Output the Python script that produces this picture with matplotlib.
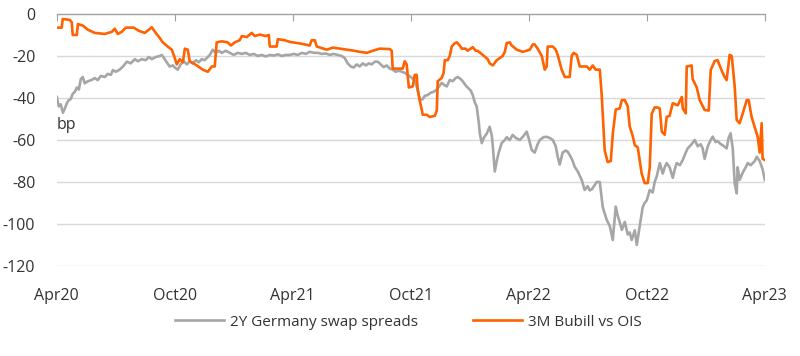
import matplotlib.pyplot as plt

# months since Apr 2020, values in bp
bubill_m = [0.0, 0.25, 0.3, 0.66, 0.76, 0.81, 1.02, 1.07, 1.32, 1.58, 1.93, 2.44, 2.80, 2.95, 3.10, 3.30,
            3.51, 3.91, 4.17, 4.47, 4.68, 4.83, 5.03, 5.24, 5.39, 5.64, 5.85, 6.0, 6.10, 6.25, 6.41, 6.51,
            6.66, 6.76, 7.12, 7.42, 7.68, 7.88, 8.03, 8.13, 8.39, 8.69, 8.85, 9.05, 9.30, 9.41, 9.66, 9.91,
            10.07, 10.32, 10.63, 10.78, 10.83, 11.18, 11.24, 11.59, 11.85, 12.35, 12.86, 12.96, 13.12, 13.22,
            13.73, 14.03, 14.54, 15.05, 15.40, 15.76, 16.07, 16.42, 16.93, 17.03, 17.08, 17.44, 17.59, 17.69,
            17.79, 17.90, 18.10, 18.20, 18.30, 18.35, 18.45, 18.61, 18.81, 18.96, 19.22, 19.32, 19.37, 19.57,
            19.67, 19.73, 19.88, 19.98, 20.08, 20.23, 20.34, 20.49, 20.59, 20.79, 20.89, 21.15, 21.30, 21.40,
            21.66, 21.91, 22.01, 22.17, 22.37, 22.52, 22.67, 22.78, 22.88, 23.03, 23.13, 23.39, 23.54, 23.69,
            23.89, 24.05, 24.20, 24.30, 24.45, 24.66, 24.81, 24.91, 24.96, 25.22, 25.37, 25.47, 25.67, 25.83,
            26.08, 26.18, 26.28, 26.44, 26.59, 26.95, 27.10, 27.25, 27.40, 27.61, 27.71, 27.86, 28.01, 28.17,
            28.27, 28.42, 28.62, 28.73, 28.88, 29.03, 29.13, 29.28, 29.39, 29.54, 29.74, 29.89, 30.05, 30.15,
            30.25, 30.40, 30.55, 30.66, 30.76, 30.91, 31.01, 31.16, 31.32, 31.57, 31.78, 31.83, 31.98, 32.03,
            32.28, 32.33, 32.54, 32.69, 32.94, 33.15, 33.25, 33.45, 33.60, 33.81, 33.96, 34.06, 34.21, 34.32,
            34.47, 34.57, 34.72, 34.88, 35.08, 35.18, 35.33, 35.49, 35.64, 35.74, 35.84, 35.89, 36.0]
bubill_v = [-6.5, -6.5, -2.4, -2.8, -4, -10, -10, -4.8, -5.5, -7.5, -9, -9.5, -8.5, -7, -9.5, -8.5,
            -6.5, -6.5, -8, -9, -7.5, -6.3, -9, -11.5, -13.5, -15.5, -17, -21, -24, -21.5, -23, -16.5,
            -17, -22.5, -24.5, -26.5, -27.5, -25, -25, -13.5, -13, -13.5, -15, -13.5, -12.5, -10.5, -11, -9,
            -10.5, -9.8, -10.5, -10, -15.5, -15.5, -12, -12.5, -13.3, -14, -15, -12.5, -12.5, -15.5,
            -17, -16, -16.7, -17.4, -18, -18.5, -17.5, -16.5, -16.7, -17.5, -26, -26, -26, -22.5,
            -24, -35, -34.5, -29, -29, -36, -41, -48, -48, -49, -48.5, -46, -32, -30.5,
            -28, -22, -22, -20, -15.5, -14, -13.5, -15, -16.5, -16.5, -17.5, -15.8, -17.5, -17.5,
            -19.5, -21.5, -23.5, -24.5, -22, -21, -20, -18, -13.8, -13.5, -15, -17, -17.5, -18,
            -17.5, -17, -14.5, -14.5, -16.5, -20, -26.5, -25, -15.5, -15.5, -17, -19.5, -26.5, -30,
            -30, -20, -18.5, -19.5, -25, -25, -26.5, -24.5, -26.5, -26.5, -39, -65, -70.5, -70,
            -57, -45.5, -45, -41, -41, -44, -53.5, -58, -62.5, -63.5, -76, -80.5, -80.5, -73,
            -47.5, -44.5, -44.5, -45, -56, -57.5, -49, -48.5, -42.5, -43.5, -39.5, -45, -47.3, -25,
            -24.5, -31, -35, -41, -45.7, -46, -26.7, -22.4, -22, -27, -30, -31.5, -19.5, -20,
            -34.6, -50.5, -52, -47.3, -41, -41, -49, -54, -58.5, -66, -52, -69, -69.5]

swap_m = [0.0, 0.10, 0.20, 0.31, 0.41, 0.51, 0.61, 0.71, 0.81, 0.92, 1.02, 1.12, 1.22, 1.32, 1.42, 1.58,
          1.78, 1.93, 2.08, 2.24, 2.44, 2.59, 2.75, 2.85, 3.00, 3.20, 3.41, 3.56, 3.76, 3.97, 4.12, 4.32,
          4.52, 4.68, 4.83, 5.03, 5.24, 5.34, 5.49, 5.59, 5.74, 5.90, 6.00, 6.15, 6.30, 6.46, 6.61, 6.76,
          6.91, 7.07, 7.22, 7.37, 7.52, 7.68, 7.78, 7.93, 8.08, 8.24, 8.39, 8.59, 8.80, 9.00, 9.20, 9.41,
          9.61, 9.81, 10.02, 10.22, 10.42, 10.63, 10.83, 11.03, 11.24, 11.44, 11.64, 11.85, 12.05, 12.25,
          12.46, 12.66, 12.86, 13.07, 13.27, 13.47, 13.68, 13.88, 14.08, 14.29, 14.49, 14.64, 14.79, 14.95,
          15.10, 15.25, 15.40, 15.56, 15.71, 15.86, 16.01, 16.17, 16.32, 16.47, 16.62, 16.78, 16.93, 17.08,
          17.23, 17.39, 17.54, 17.69, 17.84, 18.00, 18.20, 18.35, 18.45, 18.61, 18.71, 18.86, 19.01, 19.17,
          19.32, 19.47, 19.57, 19.73, 19.83, 19.98, 20.13, 20.28, 20.39, 20.54, 20.64, 20.79, 20.89, 21.05,
          21.15, 21.25, 21.35, 21.46, 21.51, 21.61, 21.71, 21.86, 22.01, 22.12, 22.17, 22.27, 22.37, 22.47,
          22.62, 22.78, 22.88, 23.03, 23.18, 23.34, 23.54, 23.74, 23.89, 23.99, 24.15, 24.30, 24.45, 24.56,
          24.76, 24.91, 25.06, 25.22, 25.37, 25.47, 25.57, 25.72, 25.88, 25.98, 26.13, 26.23, 26.33, 26.49,
          26.59, 26.69, 26.84, 26.99, 27.10, 27.20, 27.35, 27.45, 27.61, 27.76, 27.86, 27.96, 28.12, 28.27,
          28.42, 28.52, 28.62, 28.73, 28.88, 29.03, 29.13, 29.23, 29.39, 29.49, 29.64, 29.79, 29.89, 30.00,
          30.15, 30.30, 30.40, 30.50, 30.66, 30.81, 30.91, 31.01, 31.16, 31.32, 31.42, 31.52, 31.68, 31.83,
          31.98, 32.08, 32.28, 32.44, 32.59, 32.74, 32.84, 32.94, 33.10, 33.25, 33.35, 33.50, 33.60, 33.76,
          33.86, 34.06, 34.16, 34.26, 34.37, 34.47, 34.57, 34.62, 34.72, 34.88, 35.03, 35.13, 35.28, 35.39,
          35.49, 35.59, 35.74, 35.89, 36.00]
swap_v = [-39.5, -44, -43, -47, -45, -42.5, -41, -40.5, -38, -37, -35, -36, -31, -30, -33, -32,
          -31.4, -30.5, -31.5, -29.5, -30, -28.5, -29, -26.7, -27.5, -26.5, -24.5, -22.7, -23.5, -21.5, -22.5, -21.5,
          -22, -20.5, -21.5, -20.5, -20, -19.5, -21.5, -23, -25, -24.5, -25.5, -26.5, -24, -22.5, -24, -22.5,
          -23.5, -22, -23, -21.5, -22, -20.5, -19.5, -17, -18.5, -17.5, -18.5, -17.5, -18.5, -19.5, -18.5, -19,
          -18.5, -19.5, -19, -20, -19.5, -20.2, -19.5, -19.8, -19.2, -20, -19.5, -19.5, -19, -19.5,
          -18.5, -19, -18, -18.5, -18.5, -19, -18.8, -19.5, -19, -19.5, -20, -21, -23.5, -25,
          -25.5, -24, -25, -23.5, -24.5, -23.5, -24, -22.7, -22.7, -24, -25.3, -24.5, -26, -26.5,
          -27.5, -27, -27.5, -28, -29, -30, -31.7, -36, -41, -40.5, -39, -38.6, -37.5, -37,
          -36, -34, -32.8, -34, -34.5, -31.4, -32, -30.5, -30, -31, -32, -34, -35, -36.5,
          -38.6, -42, -44, -52, -57, -61.5, -59, -57, -53.7, -58, -63, -75, -70, -66,
          -61.5, -60, -58.7, -60, -57.6, -59, -60, -58, -56, -59, -64.8, -66, -62, -60,
          -58.6, -58.5, -59, -60, -63, -68, -71.7, -66, -65, -65.6, -68, -70, -72.7, -75,
          -77, -79, -83.8, -82, -84, -83.5, -81.5, -80, -80, -92, -95, -98, -101, -107.6,
          -91.7, -96, -99, -102.8, -99, -105, -104, -107.6, -103, -110, -101, -92, -90, -88.7,
          -83.8, -85, -80, -77.5, -71, -76, -73, -71, -73, -78, -74, -71, -72, -69.5,
          -66, -64, -62, -60, -63, -62, -64, -69, -63, -60, -58.4, -61, -60.5, -62,
          -62.5, -64, -59, -56.8, -64, -80.7, -85.4, -73, -79, -75.5, -73, -71, -72, -71,
          -70, -68, -70, -74, -79]

tick_pos = [0, 6, 12, 18, 24, 30, 36]
tick_labels = ["Apr20", "Oct20", "Apr21", "Oct21", "Apr22", "Oct22", "Apr23"]
y_ticks = [0, -20, -40, -60, -80, -100, -120]

plt.rcParams['font.family'] = ['Open Sans', 'DejaVu Sans']
plt.rcParams['axes.unicode_minus'] = False

fig = plt.figure(figsize=(8, 3.56), dpi=100)
ax = fig.add_axes([0.071, 0.2528, 0.885, 0.7079])

for yv in y_ticks[1:]:
    ax.axhline(yv, color="#d9d9d9", lw=1, zorder=0)

ax.plot(swap_m, swap_v, color="#a6a6a6", lw=1.9, label="2Y Germany swap spreads", zorder=2)
ax.plot(bubill_m, bubill_v, color="#ff6200", lw=1.9, label="3M Bubill vs OIS", zorder=3)

ax.set_xlim(0, 36)
ax.set_ylim(-120, 0)

for s in ["left", "right", "bottom"]:
    ax.spines[s].set_visible(False)
ax.spines["top"].set_color("#a0a0a0")
ax.spines["top"].set_linewidth(1)

ax.set_xticks(tick_pos)
ax.set_xticklabels(tick_labels)
ax.tick_params(axis="x", top=True, bottom=False, labeltop=False, labelbottom=True,
               direction="in", length=5, color="#a0a0a0", pad=16, labelsize=11.5, labelcolor="#333333")
ax.set_yticks(y_ticks)
ax.tick_params(axis="y", left=False, pad=12, labelsize=11.5, labelcolor="#333333")

ax.text(0.0, -53, "bp", fontsize=11.5, color="#333333", va="center", ha="left")

fig.legend(loc="center", bbox_to_anchor=(0.51, 0.095), ncol=2, frameon=False,
           fontsize=11, handlelength=3.2, handletextpad=0.4, columnspacing=3.6, labelcolor="#333333")

fig.savefig("out.png", dpi=100)
